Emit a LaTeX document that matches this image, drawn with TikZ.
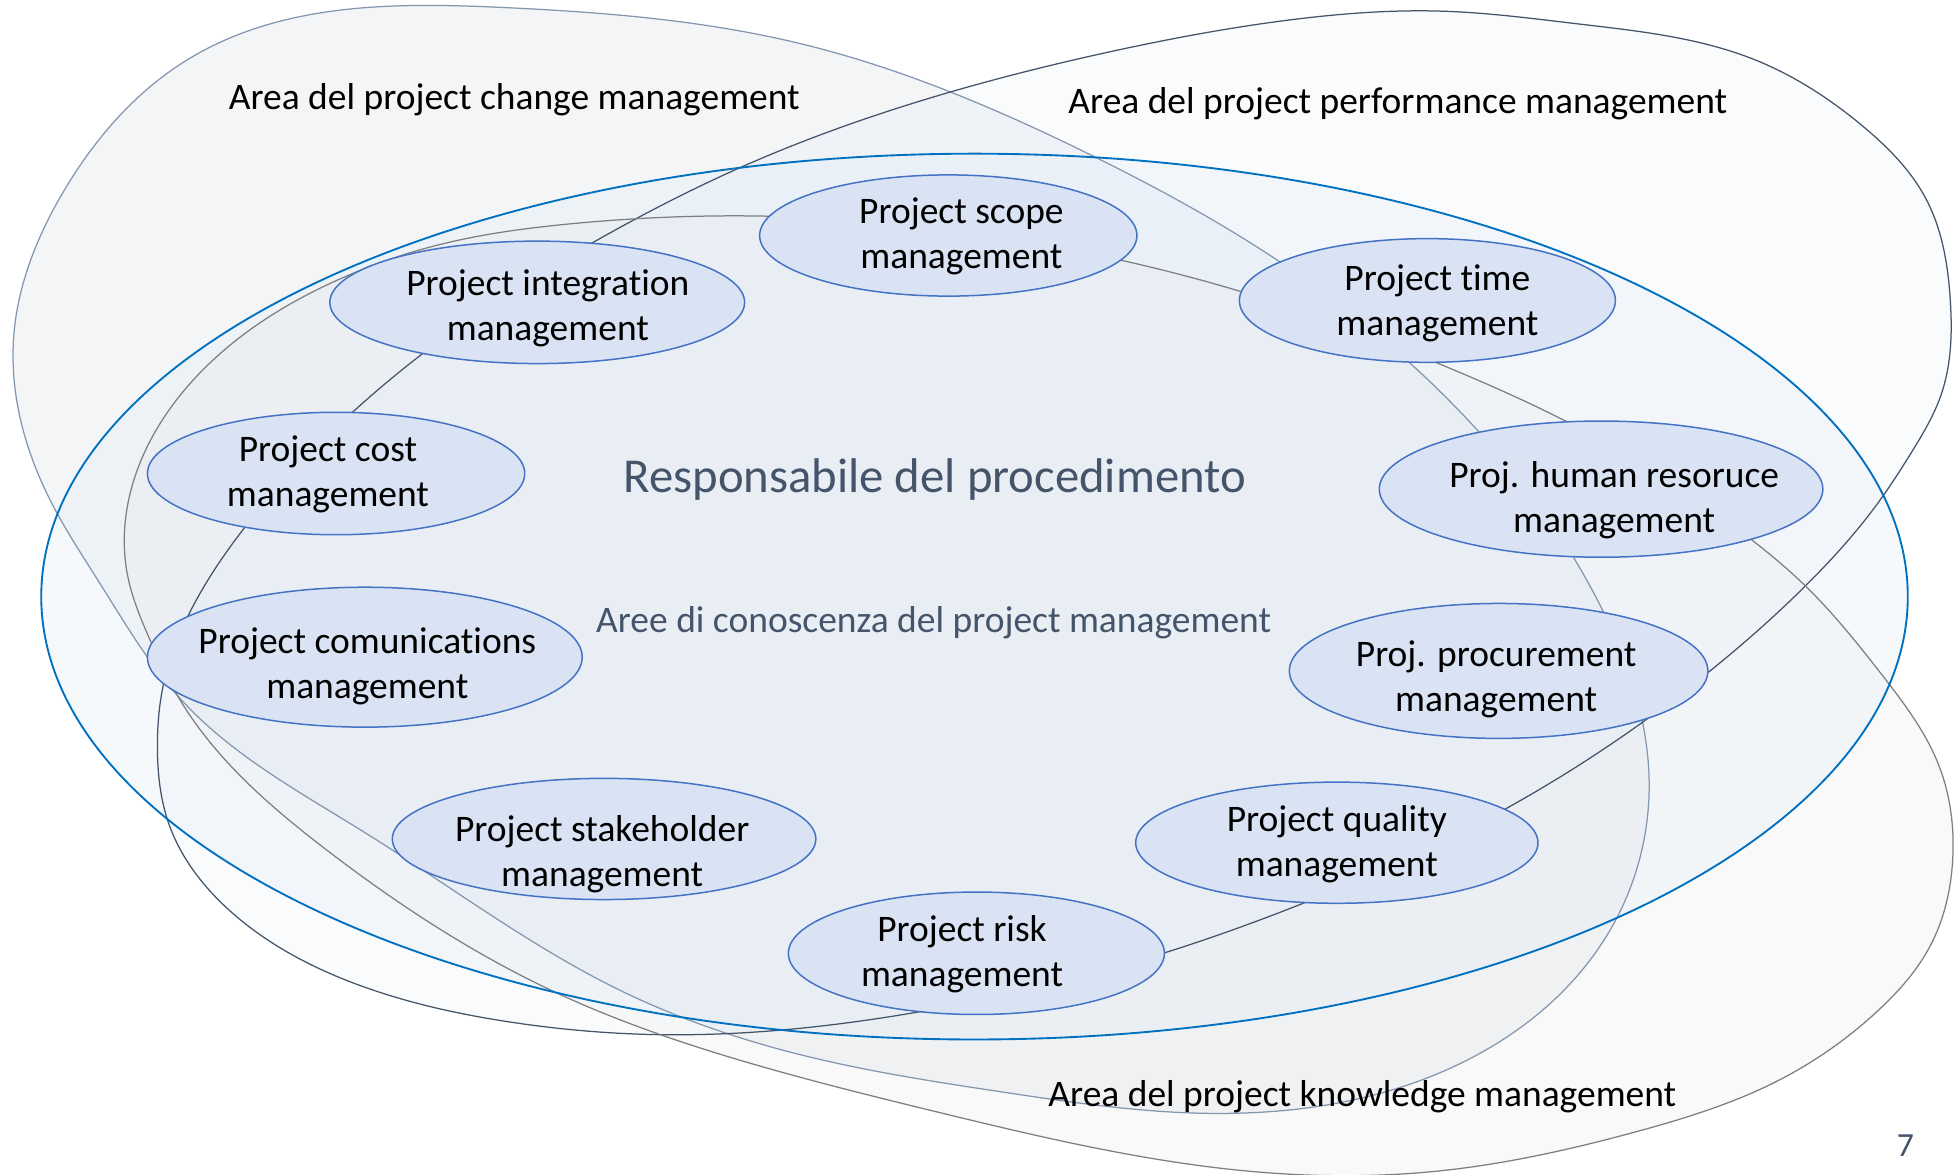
\documentclass[tikz,border=0pt]{standalone}
\usepackage{fontspec}
\setmainfont{Carlito}[Ligatures=NoCommon]
\usetikzlibrary{shapes.geometric,hobby}
\definecolor{nodefill}{HTML}{DAE3F3}
\definecolor{nodeline}{HTML}{4472C4}
\definecolor{cline}{HTML}{8497B0}
\definecolor{pline}{HTML}{44546A}
\definecolor{kline}{HTML}{7F7F7F}
\definecolor{rline}{HTML}{0070C0}
\definecolor{cfill}{HTML}{D6DCE5}
\definecolor{pfill}{HTML}{DEEBF7}
\definecolor{kfill}{HTML}{E7E6E6}
\definecolor{rfill}{HTML}{DEEBF7}
\definecolor{slate}{HTML}{44546A}
\begin{document}
\begin{tikzpicture}[x=1pt,y=-1pt,
  kbox/.style={ellipse, draw=nodeline, line width=1.2pt, fill=nodefill, inner xsep=-200pt, inner ysep=-80pt},
  ktext/.style={align=center, inner sep=0pt, font=\fontsize{30}{36}\selectfont},
  lab/.style={inner sep=0pt, anchor=base west, font=\fontsize{30}{36}\selectfont},
  blob/.style={line width=1pt}]
\useasboundingbox (0,0) rectangle (1568,940);
\clip (0,0) rectangle (1568,940);
\fill[white] (0,0) rectangle (1568,940);

% area outlines (saved)
\path[save path=\pathC] plot[closed hobby] coordinates {
 (403,6) (641,35) (871,123) (1022,208) (1184,346) (1283,489) (1320,627) (1289,744)
 (1154,858) (960,891) (802,874) (648,846) (495,792) (293,667) (145,560) (80,467)
 (40,400) (11,269) (51,153) (153,46)};
\path[save path=\pathP] plot[closed hobby] coordinates {
 (1156,9) (1262,19) (1405,48) (1491,101) (1542,160) (1561,240) (1554,315) (1530,362)
 (1505,400) (1443,471) (1365,540) (1204,648) (1043,723) (931,763) (735,810) (521,828)
 (408,818) (286,788) (184,729) (135,659) (126,600) (131,547) (150,494) (196,422)
 (281,331) (337,284) (473,195) (595,133) (756,75) (895,40) (1040,15)};
\path[save path=\pathK] plot[closed hobby] coordinates {
 (613,173) (458,179) (347,197) (275,222) (153,306) (103,400) (102,460) (120,512)
 (141,555) (261,680) (444,794) (597,850) (750,890) (1006,938) (1154,937) (1309,906)
 (1425,864) (1502,810) (1545,757) (1563,687) (1552,613) (1507,541) (1443,467)
 (1402,432) (1253,337) (1149,290) (992,233) (896,208)};
\path[save path=\pathR] (780,477.5) ellipse [x radius=747pt, y radius=354.5pt];

% fills
\path[use path=\pathC, fill=cfill, fill opacity=0.28];
\path[use path=\pathP, fill=pfill, fill opacity=0.18];
\path[use path=\pathK, fill=kfill, fill opacity=0.22];
\path[use path=\pathR, fill=rfill, fill opacity=0.25];
% outlines
\path[use path=\pathC, draw=cline, blob];
\path[use path=\pathP, draw=pline, blob];
\path[use path=\pathK, draw=kline, blob];
\path[use path=\pathR, draw=rline, line width=1.5pt];

% knowledge area ellipses
\node[kbox, minimum width=302pt, minimum height=97pt] (scope) at (759,188.5) {};
\node[kbox, minimum width=332pt, minimum height=98pt] (integ) at (430,242) {};
\node[kbox, minimum width=301pt, minimum height=99pt] (time) at (1142.5,240.5) {};
\node[kbox, minimum width=302pt, minimum height=98pt] (cost) at (269,379) {};
\node[kbox, minimum width=355pt, minimum height=109pt] (human) at (1281.5,391.5) {};
\node[kbox, minimum width=348pt, minimum height=112pt] (comm) at (292,526) {};
\node[kbox, minimum width=335pt, minimum height=108pt] (proc) at (1199.5,537) {};
\node[kbox, minimum width=339pt, minimum height=97pt] (stake) at (483.5,671.5) {};
\node[kbox, minimum width=322pt, minimum height=97pt] (qual) at (1070,674.5) {};
\node[kbox, minimum width=301pt, minimum height=98pt] (risk) at (781.5,763) {};

\node[ktext] (scope-t) at (769.5,190) {\strut Project scope\\\strut management};
\node[ktext] (integ-t) at (438.5,247) {\strut Project integration\\\strut management};
\node[ktext] (time-t) at (1150.5,243) {\strut Project time\\\strut management};
\node[ktext] (cost-t) at (262.5,380) {\strut Project cost\\\strut management};
\node[ktext] (human-t) at (1292,401) {\strut Proj. human resoruce\\\strut management};
\node[ktext] (comm-t) at (294,533.5) {\strut Project comunications\\\strut management};
\node[ktext] (proc-t) at (1197.5,544) {\strut Proj. procurement\\\strut management};
\node[ktext] (stake-t) at (482,684.5) {\strut Project stakeholder\\\strut management};
\node[ktext] (qual-t) at (1070,676) {\strut Project quality\\\strut management};
\node[ktext] (risk-t) at (770,764) {\strut Project risk\\\strut management};

% labels
\node[lab] (lchange) at (183,88) {Area del project change management};
\node[lab] (lperf) at (855,91) {Area del project performance management};
\node[lab] (lknow) at (839,886) {Area del project knowledge management};
\node[lab, text=slate, font=\fontsize{39}{47}\selectfont] (lresp) at (499,394) {Responsabile del procedimento};
\node[lab, text=slate] (laree) at (477,506) {Aree di conoscenza del project management};
\node[lab, text=slate, font=\fontsize{27}{32}\selectfont] (pagenum) at (1518,926) {7};
\end{tikzpicture}
\end{document}
